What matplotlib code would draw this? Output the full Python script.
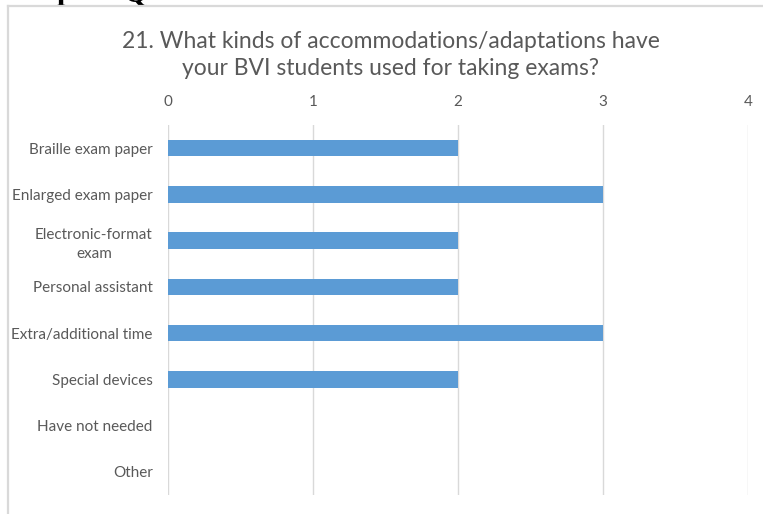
import matplotlib
matplotlib.use("Agg")
import matplotlib.pyplot as plt
from matplotlib.lines import Line2D

categories = [
    "Braille exam paper",
    "Enlarged exam paper",
    "Electronic-format\nexam",
    "Personal assistant",
    "Extra/additional time",
    "Special devices",
    "Have not needed",
    "Other",
]
counts = [2, 3, 2, 2, 3, 2, 0, 0]
x_ticks = [0, 1, 2, 3, 4]
title = "21. What kinds of accommodations/adaptations have\nyour BVI students used for taking exams?"

bar_color = "#5b9bd5"
text_color = "#595959"
grid_color = "#d9d9d9"

plt.rcParams["font.family"] = ["Lato", "DejaVu Sans"]

fig = plt.figure(figsize=(7.63, 5.14), dpi=100)
fig.patch.set_facecolor("white")

# chart frame (left and top edges)
fig.add_artist(Line2D([8 / 763, 8 / 763], [0, 1 - 6 / 514], transform=fig.transFigure,
                      color=grid_color, lw=1.6))
fig.add_artist(Line2D([8 / 763, 1], [1 - 6 / 514, 1 - 6 / 514], transform=fig.transFigure,
                      color=grid_color, lw=1.6))

# heading from the page above, cut off at the top edge
fig.text(57 / 763, 1 + 1 / 514, "p", family="Liberation Serif", weight="bold",
         fontsize=22, color="black", ha="left", va="baseline", zorder=0)
fig.text(135 / 763, 1 - 1 / 514, "Q", family="Liberation Serif", weight="bold",
         fontsize=22, color="black", ha="center", va="baseline", zorder=0)

ax = fig.add_axes([168 / 763, 1 - 495 / 514, 580 / 763, 370 / 514])
y = list(range(len(categories)))
ax.barh(y, counts, height=0.36, color=bar_color, zorder=3)
ax.set_ylim(len(categories) - 0.5, -0.5)
ax.set_xlim(0, 4)
ax.set_xticks(x_ticks)
ax.set_xticklabels([str(t) for t in x_ticks])
ax.xaxis.tick_top()
ax.set_yticks(y)
ax.set_yticklabels(categories)
ax.tick_params(axis="y", length=0, pad=11, labelsize=11, labelcolor=text_color)
ax.tick_params(axis="x", length=0, pad=11.5, labelsize=11, labelcolor=text_color)
for lab in ax.get_yticklabels():
    lab.set_multialignment("center")
    lab.set_linespacing(1.45)
ax.grid(axis="x", color=grid_color, lw=1.0, zorder=0)
for s in ax.spines.values():
    s.set_visible(False)

fig.text(391 / 763, 1 - 55 / 514, title, ha="center", va="center", fontsize=16.5,
         color=text_color, linespacing=1.4)

fig.savefig("out.png", dpi=100)
